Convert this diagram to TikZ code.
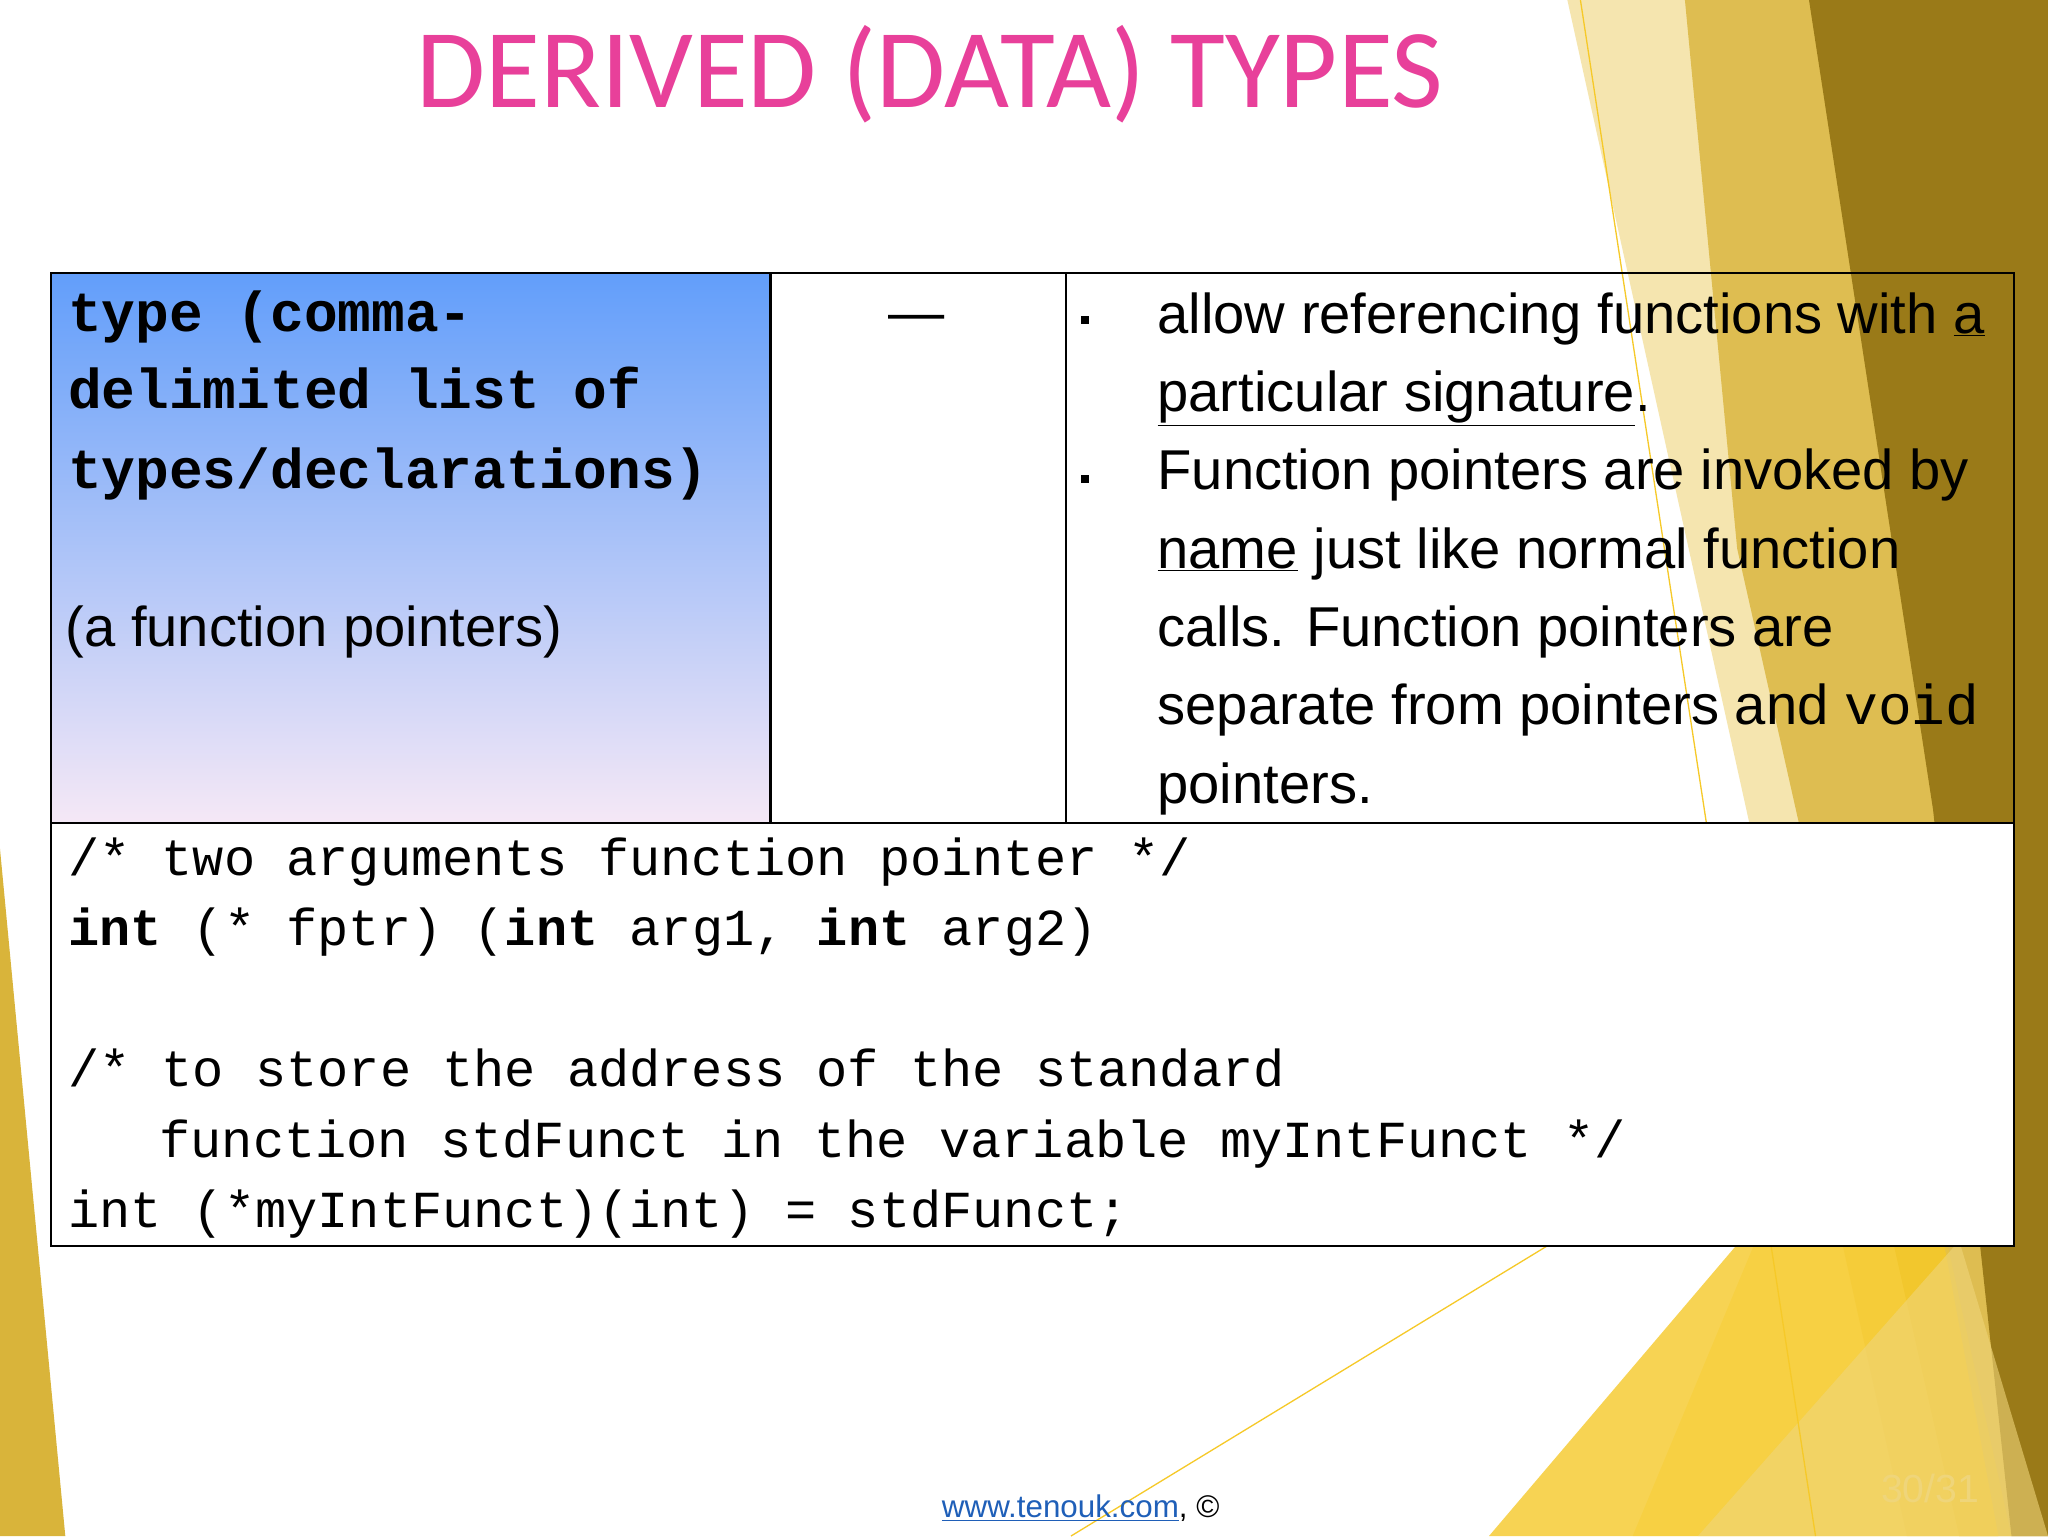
\documentclass[tikz,border=0pt]{standalone}
\usepackage{fontspec}
\setmainfont{Liberation Sans}
\setmonofont{Liberation Mono}
\newfontfamily\titlefont{Carlito}
\usetikzlibrary{calc}
\definecolor{pinkt}{HTML}{E8409A}
\definecolor{darkgold}{HTML}{9A7A18}
\definecolor{gold}{HTML}{D9B43A}
\definecolor{lightgold}{HTML}{EFD57A}
\definecolor{brightyel}{HTML}{F6C928}
\definecolor{linkblue}{HTML}{1F5FB8}
\tikzset{
  body/.style={anchor=base west,inner sep=0pt,font=\fontsize{43}{45}\selectfont},
  code/.style={anchor=base west,inner sep=0pt,font=\ttfamily\fontsize{39.8}{42}\selectfont},
  hdr/.style={anchor=base west,inner sep=0pt,font=\ttfamily\bfseries\fontsize{43}{45}\selectfont},
  bul/.style={fill=black,minimum size=6pt,inner sep=0pt},
}
\begin{document}
\begin{tikzpicture}[x=1pt,y=-1pt]
\useasboundingbox (0,0) rectangle (1568,1176);
\fill[white] (0,0) rectangle (1568,1176);
% decorations right
\fill[lightgold,opacity=0.6] (1200,0) -- (1390,0) -- (1568,700) -- (1568,1176) -- (1460,1176) -- cycle;
\fill[gold,opacity=0.8] (1290,0) -- (1390,0) -- (1568,560) -- (1568,1176) -- (1500,1176) -- (1330,420) -- cycle;
\fill[darkgold] (1385,0) -- (1568,0) -- (1568,1176) -- (1540,1176) -- (1480,620) -- cycle;
\fill[brightyel,opacity=0.35] (1250,1176) -- (1440,720) -- (1540,1176) -- cycle;
\fill[brightyel,opacity=0.8] (1140,1176) -- (1460,800) -- (1530,1176) -- cycle;
\fill[lightgold,opacity=0.6] (1300,1176) -- (1500,950) -- (1568,1176) -- cycle;
\draw[brightyel,line width=1pt] (1210,0) -- (1390,1176);
\draw[brightyel,line width=1pt] (820,1176) -- (1470,780);
% left decoration
\fill[gold] (0,650) -- (50,1176) -- (0,1176) -- cycle;
% title
\node[inner sep=0pt,text=pinkt,font=\titlefont\fontsize{86}{90}\selectfont] (title) at (712,57) {DERIVED (DATA) TYPES};
% table
\shade[top color={rgb,255:red,98;green,158;blue,250},bottom color={rgb,255:red,245;green,232;blue,246}] (39,209) rectangle (590,630);
\fill[white] (590,209) rectangle (816,630);
\fill[white] (39,630) rectangle (1542,954);
\draw[line width=2pt] (39,209) rectangle (1542,954);
\draw[line width=2pt] (39,630) -- (1542,630);
\draw[line width=2pt] (590,209) -- (590,630);
\draw[line width=2pt] (816,209) -- (816,630);
% left cell
\node[hdr] (h1) at (52,254) {type (comma-};
\node[hdr] (h2) at (52,313) {delimited list of};
\node[hdr] (h3) at (52,374) {types/declarations)};
\node[body] (h4) at (50,495) {(a function pointers)};
% middle
\node[body] (dash) at (680,254) {---};
% right cell
\node[bul] (b1) at (831,245) {};
\node[bul] (b2) at (831,367) {};
\node[body] (r1) at (886,255) {allow referencing functions with \underline{a}};
\node[body] (r2) at (886,315) {\underline{particular signature}.};
\node[body] (r3) at (886,375) {Function pointers are invoked by};
\node[body] (r4) at (886,435) {\underline{name} just like normal function};
\node[body] (r5) at (886,495) {calls. Function pointers are};
\node[body] (r6) at (886,555) {separate from pointers and {\ttfamily void}};
\node[body] (r7) at (886,615) {pointers.};
% code
\node[code] (c1) at (52,670) {/* two arguments function pointer  */};
\node[code] (c2) at (52,724) {\textbf{int} (* fptr) (\textbf{int} arg1, \textbf{int} arg2)};
\node[code] (c3) at (52,832) {/* to store the address of the standard};
\node[code] (c4) at (122,886) {function stdFunct in the variable myIntFunct */};
\node[code] (c5) at (52,940) {int (*myIntFunct)(int) = stdFunct;};
% footer
\node[anchor=base west,inner sep=0pt,font=\fontsize{24}{26}\selectfont] (foot) at (721,1162) {\textcolor{linkblue}{\underline{www.tenouk.com}}, ©};
\node[anchor=base west,inner sep=0pt,text=lightgold,font=\fontsize{30}{32}\selectfont] (pg) at (1440,1150) {30/31};
\end{tikzpicture}
\end{document}
